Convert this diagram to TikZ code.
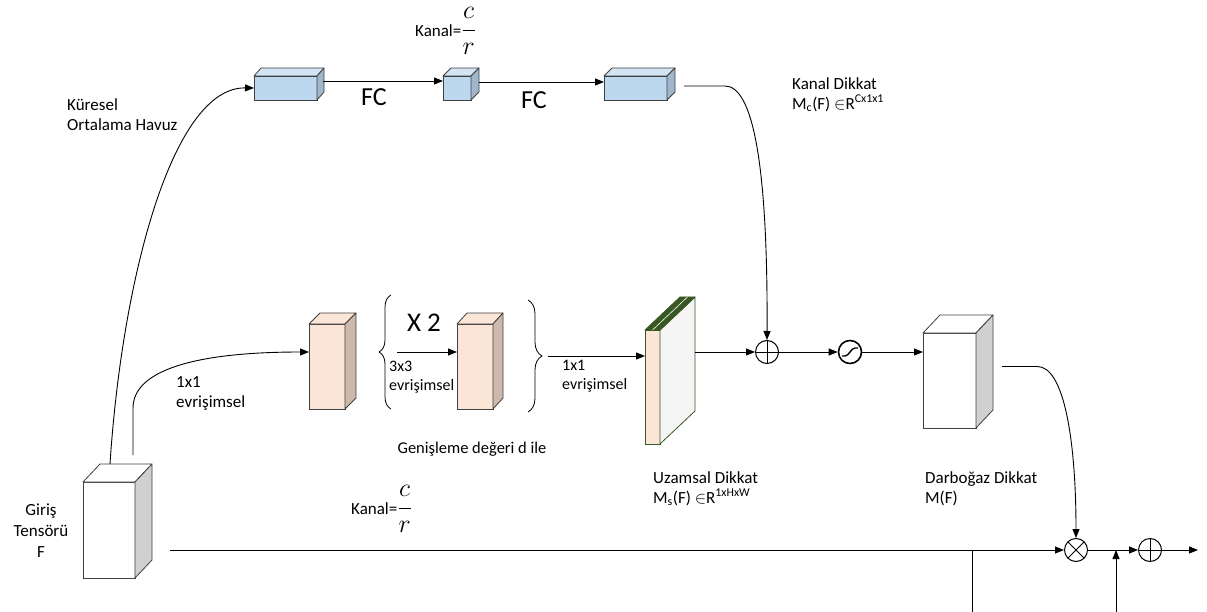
\RequirePackage{fix-cm}
\documentclass[tikz,border=0pt]{standalone}
\usepackage{fontspec}
\setmainfont{Carlito}
\usepackage{tikz}
\usetikzlibrary{arrows.meta,positioning,calc,decorations.pathreplacing}
\definecolor{BoxBlue}{HTML}{BDD7EE}
\definecolor{BoxBlueTop}{HTML}{D3E5F5}
\definecolor{BoxBlueSide}{HTML}{9FB6CC}
\definecolor{Peach}{HTML}{FBE5D6}
\definecolor{PeachSide}{HTML}{CDB9AC}
\definecolor{SideGray}{HTML}{D0D0D0}
\definecolor{SlabGreen}{HTML}{385723}
\definecolor{SlabSide}{HTML}{F4F5F4}
\definecolor{Edge}{HTML}{404040}

% top and side faces of a cuboid drawn behind a front node
\newcommand\cubside[6]{%
  \draw[draw=#6,fill=#4,line width=0.8pt,line join=round] (#1.north west) -- ++(#2,#3) -- ($(#1.north east)+(#2,#3)$) -- (#1.north east) -- cycle;
  \draw[draw=#6,fill=#5,line width=0.8pt,line join=round] (#1.north east) -- ++(#2,#3) -- ($(#1.south east)+(#2,#3)$) -- (#1.south east) -- cycle;
}
\newcommand\chfrac{{\fontsize{26}{28}\selectfont$\displaystyle\frac{c}{r}$}}

\begin{document}
\begin{tikzpicture}[x=1pt,y=-1pt,
  bluebox/.style={draw=Edge,fill=BoxBlue,line width=0.8pt,inner sep=0pt,outer sep=0pt,minimum height=24pt},
  peachbox/.style={draw=Edge,fill=Peach,line width=0.8pt,inner sep=0pt,outer sep=0pt,minimum width=36pt,minimum height=85pt},
  whitebox/.style={draw=Edge,fill=white,line width=0.8pt,inner sep=0pt,outer sep=0pt},
  slab/.style={draw=SlabGreen,fill=Peach,line width=0.8pt,inner sep=0pt,outer sep=0pt,minimum width=15pt,minimum height=114pt},
  lbl/.style={font=\fontsize{17}{20}\selectfont,align=left,inner sep=0pt},
  sml/.style={font=\fontsize{16}{19}\selectfont,align=left,inner sep=0pt},
  big/.style={font=\fontsize{26}{28}\selectfont,inner sep=0pt},
  opl/.style={circle,draw,line width=1pt,minimum size=23pt,inner sep=0pt,
    path picture={\draw[line width=1pt] (path picture bounding box.north) -- (path picture bounding box.south)
      (path picture bounding box.west) -- (path picture bounding box.east);}},
  otm/.style={circle,draw,line width=1pt,minimum size=23pt,inner sep=0pt,
    path picture={\draw[line width=1pt] (path picture bounding box.north west) -- (path picture bounding box.south east)
      (path picture bounding box.south west) -- (path picture bounding box.north east);}},
  sgm/.style={circle,draw,line width=1.6pt,minimum size=23pt,inner sep=0pt},
  arr/.style={-{Triangle[length=9pt,width=7pt]},line width=0.9pt},
  ln/.style={line width=0.9pt}
]
\useasboundingbox (0,0) rectangle (1207,612);

% channel branch
\node[bluebox,minimum width=63pt] (gap) at (285.5,88) {};
\cubside{gap}{7}{-8}{BoxBlueTop}{BoxBlueSide}{Edge}
\node[bluebox,minimum width=28pt] (fc1) at (457,88) {};
\cubside{fc1}{8}{-8}{BoxBlueTop}{BoxBlueSide}{Edge}
\node[bluebox,minimum width=63pt] (fc2) at (635.5,88) {};
\cubside{fc2}{8}{-8}{BoxBlueTop}{BoxBlueSide}{Edge}
\node[big] (fca) at (374,97) {FC};
\node[big] (fcb) at (534,100) {FC};
\node[lbl,anchor=west] (kan1) at (415,31) {Kanal=\chfrac};
\node[lbl,anchor=north west] (gaplbl) at (67,98) {Küresel\\Ortalama Havuz};
\node[lbl,anchor=north west] (chlbl) at (792,77) {Kanal Dikkat\\M\textsubscript{c}(F) $\in$R\textsuperscript{Cx1x1}};

% spatial branch
\node[peachbox] (conv1) at (327,366.5) {};
\cubside{conv1}{11}{-11}{Peach}{PeachSide}{Edge}
\node[peachbox] (conv2) at (475,366.5) {};
\cubside{conv2}{10}{-11}{Peach}{PeachSide}{Edge}
\coordinate (lbrb) at (391,409);
\coordinate (lbrt) at (391,295);
\coordinate (rbrt) at (528,300);
\coordinate (rbrb) at (528,412);
\draw[line width=0.8pt,decorate,decoration={brace,amplitude=12pt}] (lbrb) -- (lbrt);
\draw[line width=0.8pt,decorate,decoration={brace,amplitude=14pt}] (rbrt) -- (rbrb);
\node[font=\fontsize{27}{29}\selectfont,inner sep=0pt] (rep) at (424,323) {X 2};
\node[sml,anchor=north west] (c33) at (389,361) {3x3\\evrişimsel};
\node[sml,anchor=north west] (c11b) at (562,360) {1x1\\evrişimsel};
\node[lbl,anchor=north west] (c11a) at (176,376) {1x1\\evrişimsel};
\node[font=\fontsize{16.5}{19}\selectfont,inner sep=0pt] (dil) at (472,449) {Genişleme değeri d ile};

\node[slab] (spat) at (652.5,387) {};
\draw[draw=SlabGreen,fill=SlabSide,line width=0.8pt,line join=round] (spat.north east) -- ++(35,-33) -- ($(spat.south east)+(35,-33)$) -- (spat.south east) -- cycle;
\draw[draw=SlabGreen,fill=SlabGreen,line width=0.8pt,line join=round] (spat.north west) -- ++(35,-33) -- ++(15,0) -- (spat.north east) -- cycle;
\draw[white,line width=0.6pt] (spat.north) -- ++(35,-33);
\coordinate (spatback) at ($(spat.east)+(35,0)$);
\node[lbl,anchor=north west] (splbl) at (653,471) {Uzamsal Dikkat\\M\textsubscript{s}(F) $\in$R\textsuperscript{1xHxW}};

\node[opl] (add1) at (767,352) {};
\node[sgm] (sig) at (850,352) {};
\draw[line width=1.4pt] ($(sig)+(-8,4)$) -- ++(3,0) .. controls +(4,0) and +(-4,0) .. ++(10,-8) -- ++(3,0);

\node[whitebox,minimum width=53pt,minimum height=95pt] (bott) at (949.5,380.5) {};
\cubside{bott}{17}{-18}{white}{SideGray}{Edge}
\node[lbl,anchor=north west] (btlbl) at (925,471) {Darboğaz Dikkat\\M(F)};

% input and output
\node[whitebox,minimum width=52pt,minimum height=96pt] (inp) at (109,530) {};
\cubside{inp}{17}{-18}{white}{SideGray}{Edge}
\node[lbl,align=center,font=\fontsize{17}{21}\selectfont] (inplbl) at (41,531) {Giriş\\Tensörü\\F};
\node[lbl,anchor=west] (kan2) at (351,509) {Kanal=\chfrac};
\node[otm] (mul) at (1076,550) {};
\node[opl] (add2) at (1150,550) {};

\coordinate (inpa) at (110,464);
\coordinate (inpb) at (133,455);
\coordinate (x2s) at (397,352);
\coordinate (rbs) at (548,356);
\coordinate (skip) at (170,550);
\coordinate (dn) at (972,612);
\coordinate (up) at (1116,612);
\coordinate (out) at (1198,550);

\draw[arr] (inpa) .. controls (122,280) and (172,87) .. (gap.west);
\draw[arr] (inpb) -- (133,408) .. controls (133,372) and (190,352) .. ([yshift=14.5pt]conv1.west);
\draw[arr] ($(gap.east)+(6,-7)$) -- ($(fc1.west)+(0,-7)$);
\draw[arr] ($(fc1.east)+(8,-6)$) -- ($(fc2.west)+(0,-6)$);
\draw[arr] ($(fc2.east)+(17,-2)$) -- ($(fc2.east)+(58,-2)$) .. controls (752,86) and (768,160) .. (add1.north);
\draw[arr] (x2s) -- (x2s -| conv2.west);
\draw[arr] (rbs) -- (rbs -| spat.west);
\draw[arr] (add1 -| spatback) -- (add1.west);
\draw[arr] (add1.east) -- (sig.west);
\draw[arr] (sig.east) -- (sig.east -| bott.west);
\draw[arr] ($(bott.east)+(26,-14)$) -- ++(35,0) .. controls (1064,366) and (1076,440) .. (mul.north);
\draw[arr] (skip) -- (mul.west);
\draw[ln] (dn |- mul) -- (dn);
\draw[arr] (up) -- (up |- mul);
\draw[arr] (mul.east) -- (add2.west);
\draw[arr] (add2.east) -- (out);
\end{tikzpicture}
\end{document}
